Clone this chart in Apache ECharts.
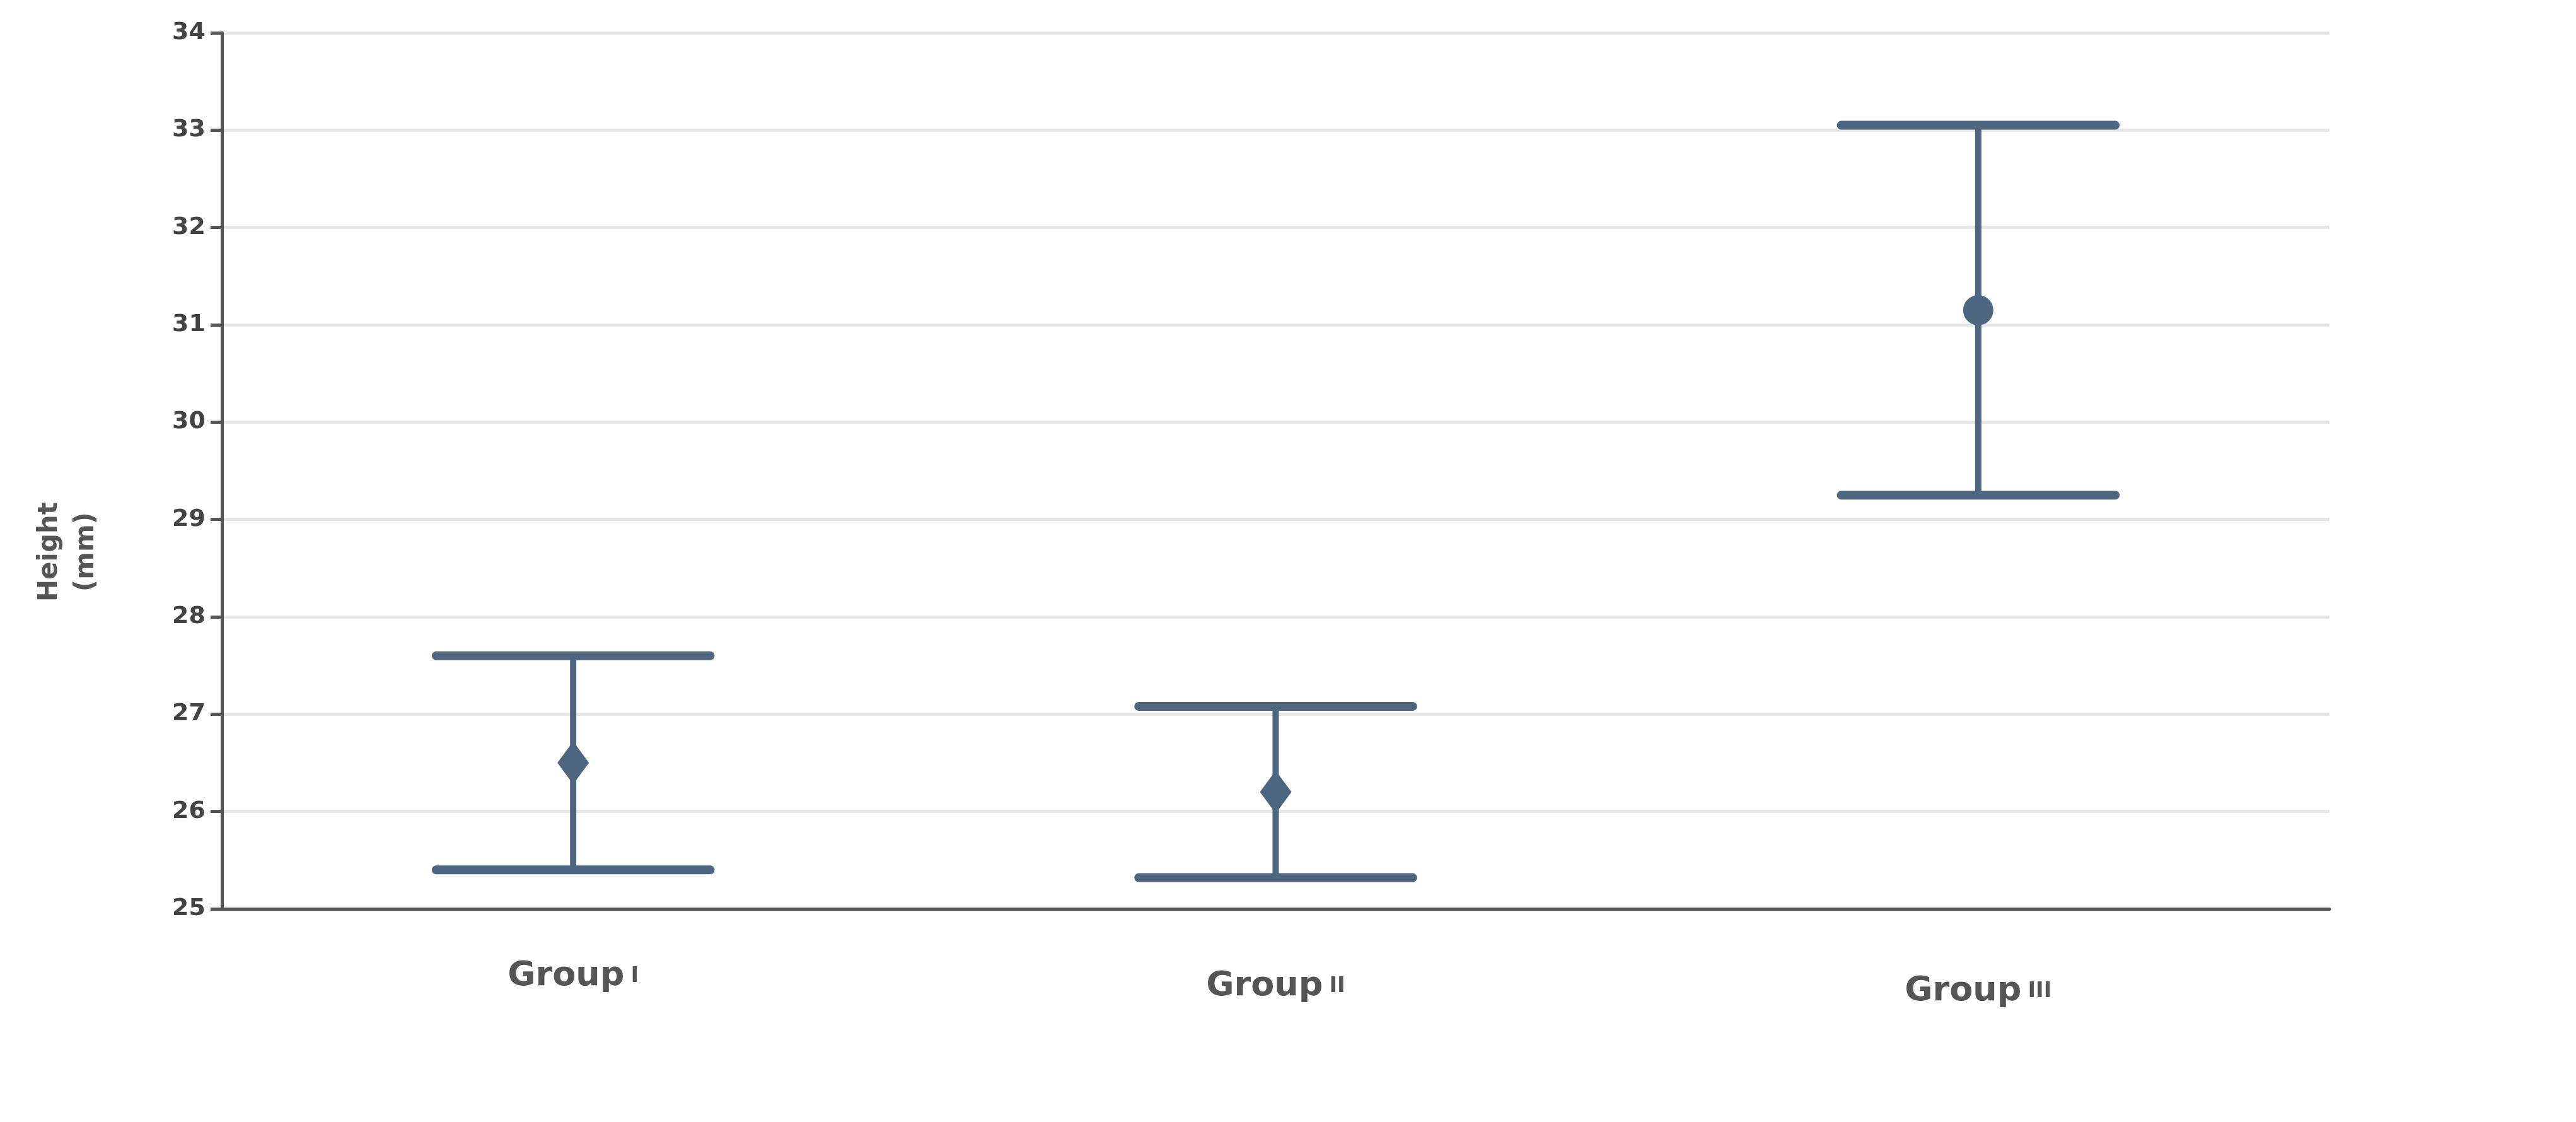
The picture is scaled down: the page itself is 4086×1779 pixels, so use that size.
<!DOCTYPE html>
<html><head><meta charset="utf-8">
<script src="https://cdn.jsdelivr.net/npm/echarts@6/dist/echarts.min.js"></script>
<style>html,body{margin:0;padding:0;background:#fff}#c{width:4086px;height:1779px}</style>
</head><body><div id="c"></div>
<script>
const categories = ['Group I', 'Group II', 'Group III'];
const numerals = ['I', 'II', 'III'];
const means = [26.5, 26.2, 31.15];
const upper = [27.6, 27.08, 33.05];
const lower = [25.4, 25.32, 29.25];
const symbols = ['diamond', 'diamond', 'circle'];
const yTicks = [25, 26, 27, 28, 29, 30, 31, 32, 33, 34];

const color = '#4f6680';
const gs = { fontSize: 54, fontWeight: 'bold', color: '#555', fontFamily: 'DejaVu Sans' };
const ns = { fontSize: 34, fontWeight: 'bold', color: '#555', fontFamily: 'DejaVu Sans' };
const pads = [0, 16, 24];
const rich = {};
pads.forEach((p, i) => {
  rich['g' + i] = Object.assign({}, gs, { padding: [p, 10, 0, 0] });
  rich['n' + i] = Object.assign({}, ns, { padding: [p, 0, 0, 0] });
});
const chart = echarts.init(document.getElementById('c'));
chart.setOption({
  animation: false,
  grid: { left: 352, right: 391, top: 52, bottom: 338 },
  xAxis: {
    type: 'category', data: categories, boundaryGap: true,
    axisLine: { lineStyle: { color: '#555', width: 5 } },
    axisTick: { alignWithLabel: true, length: 22, lineStyle: { color: '#555', width: 4 } },
    axisLabel: {
      margin: 80,
      formatter: (v, i) => '{g' + i + '|Group}{n' + i + '|' + numerals[i] + '}',
      rich: rich
    }
  },
  yAxis: {
    type: 'value', min: yTicks[0], max: yTicks[yTicks.length - 1], interval: 1,
    axisLine: { show: true, lineStyle: { color: '#555', width: 5 } },
    axisTick: { show: true, length: 18, lineStyle: { color: '#555', width: 5 } },
    axisLabel: { fontSize: 38, fontWeight: 'bold', color: '#444', fontFamily: 'DejaVu Sans', margin: 26 },
    splitLine: { lineStyle: { color: '#e6e6e6', width: 5 } }
  },
  graphic: [{
    type: 'text', x: 108, y: 875, rotation: Math.PI / 2,
    style: { text: 'Height\n(mm)', fill: '#555', font: 'bold 42px "DejaVu Sans"', align: 'center', verticalAlign: 'middle', lineHeight: 58 }
  }],
  series: [{
    type: 'custom',
    data: categories.map((c, i) => [i, lower[i], upper[i]]),
    renderItem: (params, api) => {
      const x = api.value(0);
      const lo = api.coord([x, api.value(1)]);
      const hi = api.coord([x, api.value(2)]);
      const hw = api.size([1, 0])[0] * 0.195;
      const st = { stroke: color, lineWidth: 14, lineCap: 'round' };
      return { type: 'group', children: [
        { type: 'line', shape: { x1: hi[0], y1: hi[1], x2: hi[0], y2: lo[1] }, style: { stroke: color, lineWidth: 10 } },
        { type: 'line', shape: { x1: hi[0] - hw, y1: hi[1], x2: hi[0] + hw, y2: hi[1] }, style: st },
        { type: 'line', shape: { x1: lo[0] - hw, y1: lo[1], x2: lo[0] + hw, y2: lo[1] }, style: st }
      ] };
    },
    z: 2
  }, {
    type: 'scatter',
    data: means.map((m, i) => ({ value: [i, m], symbol: symbols[i], symbolSize: symbols[i] === 'circle' ? 48 : [50, 68] })),
    itemStyle: { color: color, opacity: 1 },
    z: 3
  }]
});
</script></body></html>
